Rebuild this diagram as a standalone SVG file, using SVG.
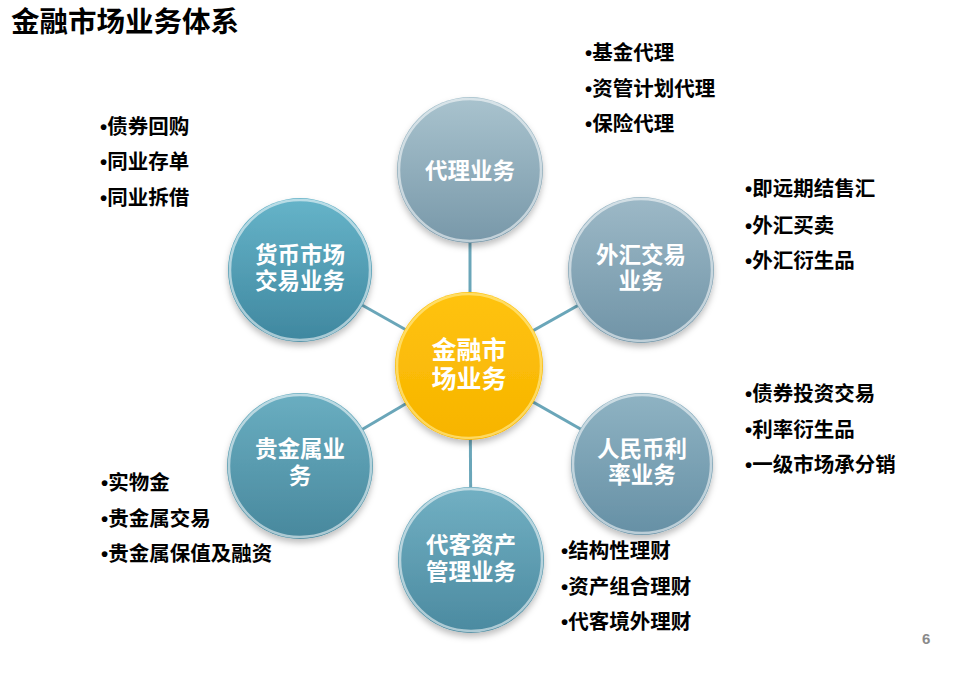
<svg xmlns="http://www.w3.org/2000/svg" width="968" height="680" viewBox="0 0 968 680">
<defs>
<style>
.title{font-family:"Liberation Sans","Noto Sans CJK SC",sans-serif;font-weight:bold;font-size:28.5px;fill:#000}
.item{font-family:"Liberation Sans","Noto Sans CJK SC",sans-serif;font-weight:bold;font-size:20.5px;fill:#000}
.ntext{font-family:"Liberation Sans","Noto Sans CJK SC",sans-serif;font-weight:bold;font-size:22.5px;fill:#fff;text-anchor:middle}
.ctext{font-family:"Liberation Sans","Noto Sans CJK SC",sans-serif;font-weight:bold;font-size:25px;fill:#fff;text-anchor:middle}
.conn{stroke:#6AA6B9;stroke-width:3;fill:none}
.rim{fill:none;stroke:#ffffff;stroke-opacity:0.55;stroke-width:2.5}
.page{font-family:"Liberation Sans",sans-serif;font-weight:bold;font-size:15px;fill:#8a8a8a}
</style>
<filter id="sh" x="-20%" y="-20%" width="140%" height="150%">
<feDropShadow dx="0" dy="4" stdDeviation="3" flood-color="#000" flood-opacity="0.25"/>
</filter>
<linearGradient id="gTop" x1="0" y1="0" x2="0" y2="1"><stop offset="0" stop-color="#A9C3CE"/><stop offset="1" stop-color="#7898A9"/></linearGradient>
<linearGradient id="gMM" x1="0" y1="0" x2="0" y2="1"><stop offset="0" stop-color="#66B4C9"/><stop offset="1" stop-color="#3F879F"/></linearGradient>
<linearGradient id="gFX" x1="0" y1="0" x2="0" y2="1"><stop offset="0" stop-color="#9DB9C7"/><stop offset="1" stop-color="#7094A7"/></linearGradient>
<linearGradient id="gPM" x1="0" y1="0" x2="0" y2="1"><stop offset="0" stop-color="#6AAEC1"/><stop offset="1" stop-color="#48889D"/></linearGradient>
<linearGradient id="gRMB" x1="0" y1="0" x2="0" y2="1"><stop offset="0" stop-color="#8FB3C3"/><stop offset="1" stop-color="#6690A5"/></linearGradient>
<linearGradient id="gAM" x1="0" y1="0" x2="0" y2="1"><stop offset="0" stop-color="#72B0C3"/><stop offset="1" stop-color="#4B8AA0"/></linearGradient>
<linearGradient id="gC" x1="0" y1="0" x2="0" y2="1"><stop offset="0" stop-color="#FFC30F"/><stop offset="1" stop-color="#F7B400"/></linearGradient>
</defs>
<rect width="968" height="680" fill="#fff"/>
<text class="title" x="11" y="32">金融市场业务体系</text>

<g id="connectors">
<line class="conn" x1="470" y1="366" x2="470" y2="170"/>
<line class="conn" x1="470" y1="366" x2="300" y2="270"/>
<line class="conn" x1="470" y1="366" x2="641" y2="270"/>
<line class="conn" x1="470" y1="366" x2="300" y2="466"/>
<line class="conn" x1="470" y1="366" x2="642" y2="464"/>
<line class="conn" x1="470" y1="366" x2="471" y2="560"/>
</g>

<g id="node-daili">
<circle cx="470" cy="170" r="73" fill="url(#gTop)" filter="url(#sh)"/>
<circle class="rim" cx="470" cy="170" r="71"/>
<text class="ntext" x="470" y="179">代理业务</text>
</g>
<g id="node-huobi">
<circle cx="300" cy="270" r="72" fill="url(#gMM)" filter="url(#sh)"/>
<circle class="rim" cx="300" cy="270" r="70"/>
<text class="ntext" x="300" y="263">货币市场</text>
<text class="ntext" x="300" y="289">交易业务</text>
</g>
<g id="node-waihui">
<circle cx="641" cy="270" r="73" fill="url(#gFX)" filter="url(#sh)"/>
<circle class="rim" cx="641" cy="270" r="71"/>
<text class="ntext" x="641" y="263">外汇交易</text>
<text class="ntext" x="641" y="289">业务</text>
</g>
<g id="node-guijinshu">
<circle cx="300" cy="466" r="73" fill="url(#gPM)" filter="url(#sh)"/>
<circle class="rim" cx="300" cy="466" r="71"/>
<text class="ntext" x="300" y="457">贵金属业</text>
<text class="ntext" x="300" y="484">务</text>
</g>
<g id="node-renminbi">
<circle cx="642" cy="464" r="71" fill="url(#gRMB)" filter="url(#sh)"/>
<circle class="rim" cx="642" cy="464" r="69"/>
<text class="ntext" x="642" y="457">人民币利</text>
<text class="ntext" x="642" y="483">率业务</text>
</g>
<g id="node-daike">
<circle cx="471" cy="560" r="73" fill="url(#gAM)" filter="url(#sh)"/>
<circle class="rim" cx="471" cy="560" r="71"/>
<text class="ntext" x="471" y="553">代客资产</text>
<text class="ntext" x="471" y="580">管理业务</text>
</g>
<g id="node-center">
<circle cx="469" cy="366" r="74" fill="url(#gC)" filter="url(#sh)"/>
<circle cx="469" cy="366" r="72" fill="none" stroke="#FFE88A" stroke-opacity="0.7" stroke-width="2.5"/>
<text class="ctext" x="469" y="359">金融市</text>
<text class="ctext" x="469" y="388">场业务</text>
</g>

<g id="list-huobi">
<text class="item" x="100" y="134">•债券回购</text>
<text class="item" x="100" y="169">•同业存单</text>
<text class="item" x="100" y="205">•同业拆借</text>
</g>
<g id="list-daili">
<text class="item" x="585" y="60">•基金代理</text>
<text class="item" x="585" y="96">•资管计划代理</text>
<text class="item" x="585" y="131">•保险代理</text>
</g>
<g id="list-waihui">
<text class="item" x="745" y="196">•即远期结售汇</text>
<text class="item" x="745" y="233">•外汇买卖</text>
<text class="item" x="745" y="268">•外汇衍生品</text>
</g>
<g id="list-renminbi">
<text class="item" x="745" y="401">•债券投资交易</text>
<text class="item" x="745" y="437">•利率衍生品</text>
<text class="item" x="745" y="472">•一级市场承分销</text>
</g>
<g id="list-guijinshu">
<text class="item" x="101" y="490">•实物金</text>
<text class="item" x="101" y="526">•贵金属交易</text>
<text class="item" x="101" y="561">•贵金属保值及融资</text>
</g>
<g id="list-daike">
<text class="item" x="561" y="558">•结构性理财</text>
<text class="item" x="561" y="594">•资产组合理财</text>
<text class="item" x="561" y="629">•代客境外理财</text>
</g>
<text class="page" x="922" y="644">6</text>
</svg>
